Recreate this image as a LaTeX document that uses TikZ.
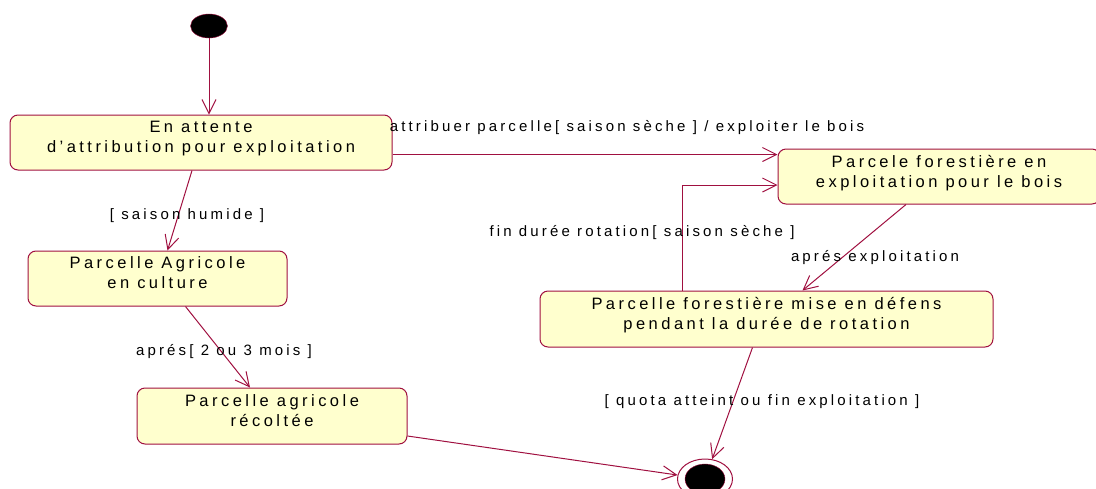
\documentclass[tikz,border=0pt]{standalone}
\usepackage{fontspec}
\setmainfont{Liberation Sans}[LetterSpace=21]
\usepackage{xcolor}
\usetikzlibrary{arrows.meta}
\usetikzlibrary{shapes.geometric}
\definecolor{rosered}{RGB}{160,16,64}
\definecolor{roseyellow}{RGB}{255,255,206}

\tikzset{
state/.style={draw=rosered, fill=roseyellow, line width=1pt, rounded corners=8pt,
  align=center, font=\fontsize{16.5}{20}\selectfont,
  execute at end node={\rule[-11pt]{0pt}{11pt}}},
trans/.style={draw=rosered, line width=1pt, -{Straight Barb[length=14pt,width=14pt]}},
guard/.style={font=\fontsize{15}{16}\selectfont, inner sep=0pt},
startnode/.style={ellipse, draw=rosered, fill=black, inner sep=0pt},
endnode/.style={ellipse, draw=rosered, line width=1pt, inner sep=0pt},
}

\begin{document}
\begin{tikzpicture}[x=1pt, y=-1pt]
\useasboundingbox (0,0) rectangle (1096,488);

%states
\node[startnode, minimum width=37pt, minimum height=24pt] (start) at (209,26) {};
\node[state, minimum width=382pt, minimum height=55pt] (attente) at (201,142.5) {En attente\\d'attribution pour exploitation};
\node[state, minimum width=259pt, minimum height=55pt] (culture) at (157.5,278.5) {Parcelle Agricole\\en culture};
\node[state, minimum width=270pt, minimum height=56pt] (recolte) at (272,416) {Parcelle agricole\\récoltée};
\node[state, minimum width=322pt, minimum height=55pt] (bois) at (939,176.5) {Parcele forestière en\\exploitation pour le bois};
\node[state, minimum width=453pt, minimum height=56pt] (defens) at (766.5,319) {Parcelle forestière mise en défens\\pendant la durée de rotation};
\node[endnode, minimum width=55pt, minimum height=40pt] (fin) at (705,479) {};
\fill[black, draw=rosered] (fin.center) ellipse [x radius=20pt, y radius=15pt];

%transitions
\draw[trans] (start) -- (start |- attente.north);
\draw[trans] ([xshift=-9pt]attente.south) -- ([xshift=10pt]culture.north);
\draw[trans] ([xshift=28pt]culture.south) -- ([xshift=-22pt]recolte.north);
\draw[trans] ([yshift=-20pt]recolte.east) -- (fin);
\draw[trans] ([yshift=-12pt]attente.east) -- ([yshift=-12pt]attente.east -| bois.west);
\draw[trans] ([xshift=-84pt]defens.north) |- ([yshift=-8.5pt]bois.west);
\draw[trans] ([xshift=-33pt]bois.south) -- ([xshift=36pt]defens.north);
\draw[trans] ([xshift=-14pt]defens.south) -- (fin);

%guards and events
\node[guard] (humide) at (187,216) {[ saison humide ]};
\node[guard] (attribuer) at (627,128) {attribuer parcelle[ saison sèche ] / exploiter le bois};
\node[guard] (rotation) at (642,233) {fin durée rotation[ saison sèche ]};
\node[guard] (exploitation) at (875,258) {aprés exploitation};
\node[guard] (mois) at (224,352) {aprés[ 2 ou 3 mois ]};
\node[guard] (quota) at (762,402) {[ quota atteint ou fin exploitation ]};
\end{tikzpicture}
\end{document}
